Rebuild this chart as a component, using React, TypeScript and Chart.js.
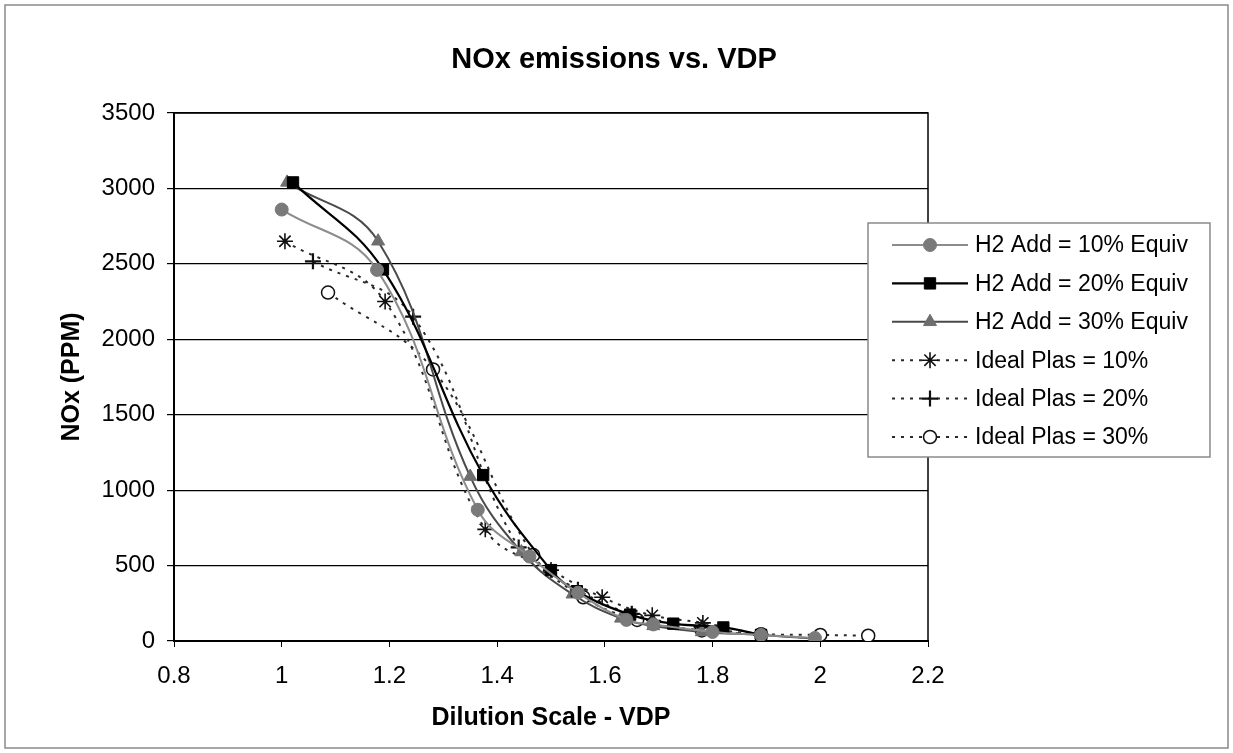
import React, { useEffect, useRef } from 'react';
import { Chart, registerables } from 'chart.js';
import { drawPoint } from 'chart.js/helpers';

Chart.register(...registerables);

const chartTitle = 'NOx emissions vs. VDP';
const xTitle = 'Dilution Scale - VDP';
const yTitle = 'NOx (PPM)';
const seriesNames = [
  'H2 Add = 10% Equiv',
  'H2 Add = 20% Equiv',
  'H2 Add = 30% Equiv',
  'Ideal Plas = 10%',
  'Ideal Plas = 20%',
  'Ideal Plas = 30%',
];

const h2Add10X = [1.0, 1.177, 1.364, 1.46, 1.55, 1.64, 1.69, 1.80, 1.89, 1.99];
const h2Add10Y = [2860, 2460, 870, 560, 320, 140, 110, 60, 40, 20];

const h2Add20X = [1.021, 1.188, 1.374, 1.50, 1.548, 1.647, 1.727, 1.82, 1.89];
const h2Add20Y = [3040, 2463, 1100, 470, 330, 175, 115, 90, 40];

const h2Add30X = [1.01, 1.179, 1.35, 1.445, 1.54, 1.63, 1.69, 1.78, 1.89, 1.99];
const h2Add30Y = [3040, 2650, 1090, 590, 310, 150, 100, 60, 40, 15];

const plas10X = [1.006, 1.192, 1.378, 1.50, 1.595, 1.688, 1.782, 1.89];
const plas10Y = [2650, 2250, 740, 470, 290, 170, 120, 40];

const plas20X = [1.058, 1.244, 1.44, 1.55, 1.65, 1.78, 1.89];
const plas20Y = [2517, 2150, 620, 340, 180, 90, 40];

const plas30X = [1.086, 1.281, 1.467, 1.56, 1.66, 1.78, 1.89, 2.0, 2.089];
const plas30Y = [2310, 1800, 570, 290, 140, 70, 45, 40, 35];

const X_MIN = 0.8, X_MAX = 2.2, X_STEP = 0.2;
const Y_MIN = 0, Y_MAX = 3500, Y_STEP = 500;

const FONT = '"Liberation Sans", Arial, sans-serif';

const pts = (xs: number[], ys: number[]) => xs.map((x, i) => ({ x, y: ys[i] }));

const framePlugin = {
  id: 'frame',
  beforeDraw(chart: any) {
    const { ctx, width, height } = chart;
    ctx.save();
    ctx.fillStyle = '#fff';
    ctx.fillRect(0, 0, width, height);
    ctx.strokeStyle = '#8a8a8a';
    ctx.lineWidth = 1.5;
    ctx.strokeRect(5, 5, width - 10, height - 10);
    ctx.restore();
  },
  beforeDatasetsDraw(chart: any) {
    const { ctx, chartArea: a } = chart;
    ctx.save();
    ctx.strokeStyle = '#000';
    ctx.lineWidth = 1.5;
    ctx.strokeRect(a.left, a.top, a.right - a.left, a.bottom - a.top);
    ctx.restore();
  },
  afterDraw(chart: any) {
    const { ctx } = chart;
    ctx.save();
    ctx.fillStyle = '#000';
    ctx.font = `bold 29px ${FONT}`;
    ctx.textAlign = 'center';
    ctx.textBaseline = 'alphabetic';
    ctx.fillText(chartTitle, 614, 68);

    // legend
    const left = 868, top = 223, w = 342, h = 234;
    ctx.fillStyle = '#fff';
    ctx.fillRect(left, top, w, h);
    ctx.strokeStyle = '#8a8a8a';
    ctx.lineWidth = 1.5;
    ctx.strokeRect(left, top, w, h);
    chart.data.datasets.forEach((ds: any, i: number) => {
      const y = 245 + i * 38.4;
      ctx.save();
      ctx.strokeStyle = ds.borderColor;
      ctx.lineWidth = ds.borderWidth;
      ctx.setLineDash(ds.borderDash || []);
      ctx.beginPath();
      ctx.moveTo(892, y);
      ctx.lineTo(968, y);
      ctx.stroke();
      ctx.setLineDash([]);
      ctx.fillStyle = ds.pointBackgroundColor;
      ctx.strokeStyle = ds.pointBorderColor;
      ctx.lineWidth = ds.pointBorderWidth;
      drawPoint(ctx, { pointStyle: ds.pointStyle, radius: ds.pointRadius, borderWidth: ds.pointBorderWidth, rotation: 0 } as any, 930, y);
      ctx.restore();
      ctx.fillStyle = '#000';
      ctx.font = `23px ${FONT}`;
      ctx.textAlign = 'left';
      ctx.textBaseline = 'middle';
      ctx.fillText(ds.label, 975, y + 1);
    });
    ctx.restore();
  },
};

export default function App() {
  const ref = useRef<HTMLCanvasElement | null>(null);
  useEffect(() => {
    if (!ref.current) return;
    const solid = (label: string, data: any, color: string, lineColor: string, style: string, r: number, bw: number) => ({
      label, data, borderColor: lineColor, borderWidth: bw, pointStyle: style, pointRadius: r,
      pointBackgroundColor: color, pointBorderColor: color, pointBorderWidth: 1, tension: 0.4, fill: false,
      showLine: true,
    });
    const dotted = (label: string, data: any, style: string, r: number, fillColor: string, pbw: number) => ({
      label, data, borderColor: '#2a2a2a', borderWidth: 2, borderDash: [3, 6], pointStyle: style, pointRadius: r,
      pointBackgroundColor: fillColor, pointBorderColor: '#111', pointBorderWidth: pbw, tension: 0.4, fill: false,
      showLine: true,
    });
    const datasets: any[] = [
      solid(seriesNames[0], pts(h2Add10X, h2Add10Y), '#7a7a7a', '#8c8c8c', 'circle', 6.5, 2),
      solid(seriesNames[1], pts(h2Add20X, h2Add20Y), '#000', '#000', 'rect', 8, 2.2),
      solid(seriesNames[2], pts(h2Add30X, h2Add30Y), '#6e6e6e', '#4a4a4a', 'triangle', 7.5, 2),
      dotted(seriesNames[3], pts(plas10X, plas10Y), 'star', 8, '#111', 1.6),
      dotted(seriesNames[4], pts(plas20X, plas20Y), 'cross', 8, '#111', 2.2),
      dotted(seriesNames[5], pts(plas30X, plas30Y), 'circle', 6.5, '#fff', 1.5),
    ];
    const chart = new Chart(ref.current, {
      type: 'scatter',
      data: { datasets },
      plugins: [framePlugin],
      options: {
        responsive: false,
        animation: false,
        layout: { padding: { left: 0, top: 113, right: 305, bottom: 0 } },
        plugins: { legend: { display: false }, tooltip: { enabled: false }, title: { display: false } },
        scales: {
          x: {
            type: 'linear', min: X_MIN, max: X_MAX,
            afterFit: (s: any) => { s.height = 112; },
            ticks: {
              stepSize: X_STEP, color: '#000', font: { family: FONT, size: 24 }, padding: 15,
              callback: (v: any) => String(Number(Number(v).toFixed(1))),
            },
            grid: { drawOnChartArea: false, drawTicks: true, tickLength: 6, color: '#000', lineWidth: 1 },
            border: { color: '#000', width: 2 },
            title: { display: true, text: xTitle, color: '#000', font: { family: FONT, size: 25, weight: 'bold' }, padding: { top: 0, bottom: 20 } },
          },
          y: {
            type: 'linear', min: Y_MIN, max: Y_MAX,
            afterFit: (s: any) => { s.width = 174; },
            ticks: {
              stepSize: Y_STEP, color: '#000', font: { family: FONT, size: 24 }, padding: 12,
              callback: (v: any) => String(Math.round(Number(v))),
            },
            grid: { color: '#000', lineWidth: 1.2, tickLength: 7 },
            border: { color: '#000', width: 2 },
            title: { display: true, text: yTitle, color: '#000', font: { family: FONT, size: 25, weight: 'bold' }, padding: { top: 57, bottom: 0 } },
          },
        },
      } as any,
    });
    return () => chart.destroy();
  }, []);
  return (
    <div style={{ position: 'fixed', left: 0, top: 0, width: 1233, height: 753, background: '#fff' }}>
      <canvas ref={ref} width={1233} height={753} style={{ display: 'block' }} />
    </div>
  );
}
